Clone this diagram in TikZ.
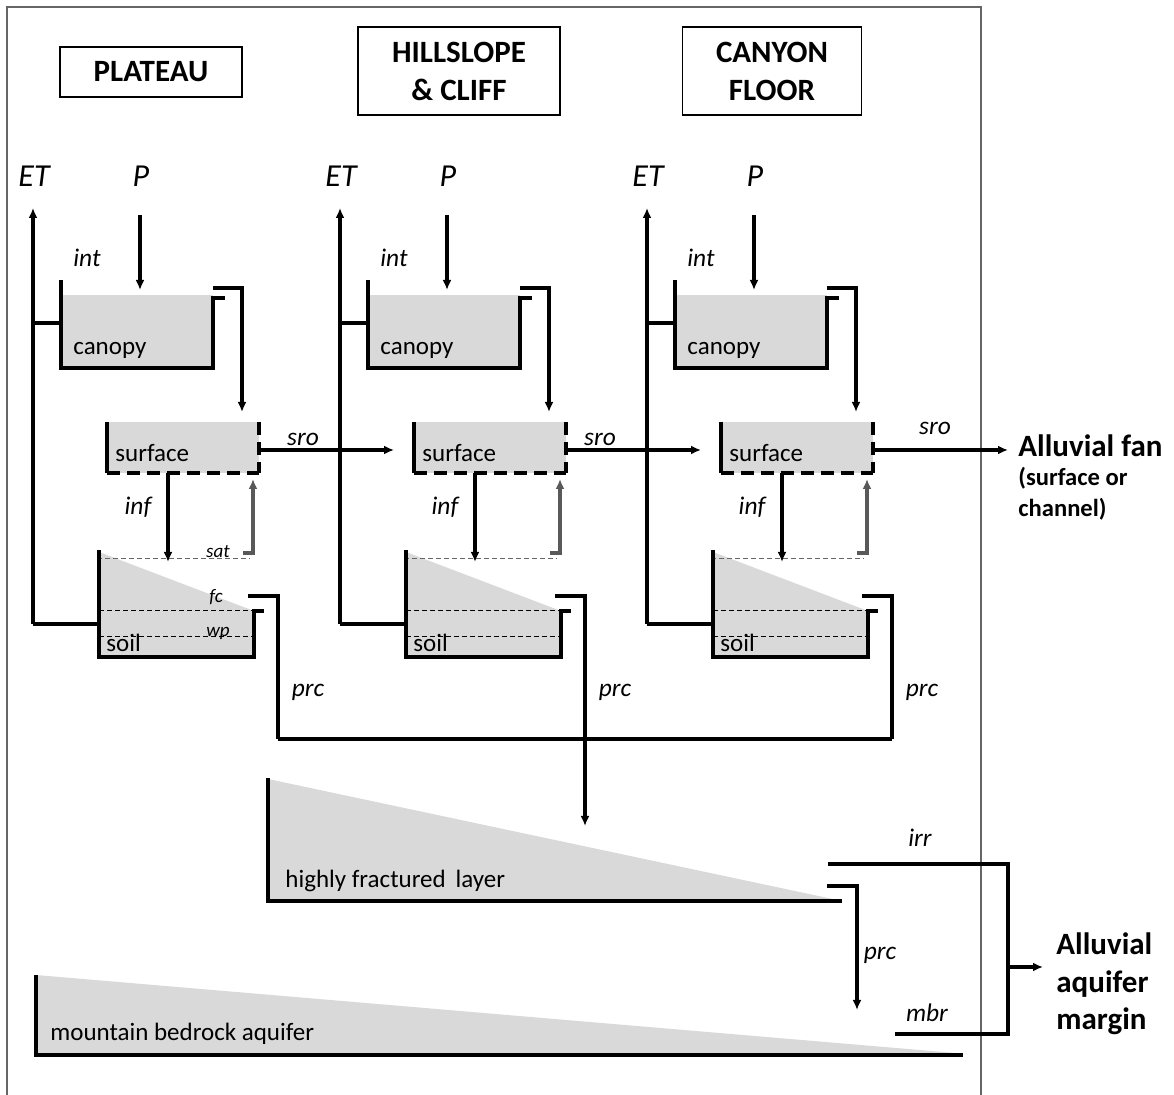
\documentclass[tikz,border=0pt]{standalone}
\usepackage{fontspec}
\setmainfont{Carlito}
\usetikzlibrary{arrows.meta}

\begin{document}
\begin{tikzpicture}[x=0.5pt,y=0.5pt]
\tikzstyle{wall}= [line width=1.6pt]
\tikzstyle{flow}= [-{Latex[length=5pt,width=4.5pt]},line width=1.6pt]
\tikzstyle{satflow}= [flow,black!65]
\tikzstyle{lvl}= [line width=0.5pt,dash pattern=on 2.5pt off 1.5pt]
\tikzstyle{rim}= [line width=2pt,dash pattern=on 6.5pt off 3.5pt]
\tikzstyle{store}= [fill=black!15]
\tikzstyle{hdr}= [draw,line width=0.6pt,font=\fontsize{15.5}{19}\selectfont\bfseries,align=center]
\tikzstyle{lbl}= [font=\fontsize{12.5}{15}\selectfont,anchor=base west,inner sep=0pt]
\tikzstyle{flux}= [font=\fontsize{12.7}{15}\selectfont\itshape]
\tikzstyle{big}= [font=\fontsize{16}{19}\selectfont\itshape]
\tikzstyle{mini}= [font=\fontsize{9.5}{11}\selectfont\itshape,inner sep=0pt]
\tikzstyle{sink}= [font=\fontsize{15.5}{18.75}\selectfont\bfseries,align=left,anchor=base west,inner sep=0pt]

\useasboundingbox (0,0) rectangle (1174,-1095);
\draw[black!60,line width=0.7pt] (7,-1095) -- (7,-7) -- (981,-7) -- (981,-1095);

\path
	(151,-72) node[hdr,minimum width=91pt,minimum height=25pt] (plat) {PLATEAU}
	(459,-71) node[hdr,minimum width=101pt,minimum height=44pt] (hill) {HILLSLOPE\\\& CLIFF}
	(772,-71) node[hdr,minimum width=89.5pt,minimum height=44pt] (cany) {CANYON\\FLOOR}
;

% one column of canopy, surface and soil per landscape unit
\foreach \c in {0,1,2} {
\begin{scope}[xshift=\c*153.5pt]
\fill[store] (61,-295) rectangle (213,-368);
\fill[store] (107,-422) rectangle (259,-473);
\fill[store] (99,-552) -- (254,-611) -- (254,-657) -- (99,-657) -- cycle;
\draw[lvl,black!60] (97,-559) -- (250,-559);
\draw[lvl] (99,-611) -- (254,-611);
\draw[lvl] (99,-637) -- (254,-637);
\draw[wall] (61,-280) -- (61,-368) -- (213,-368) -- (213,-298) -- (225,-298);
\draw[wall] (107,-422) -- (107,-473);
\draw[rim] (107,-473) -- (259,-473);
\draw[rim] (259,-422) -- (259,-473);
\draw[wall] (99,-550) -- (99,-657) -- (254,-657) -- (254,-611) -- (264,-611);
\path
	( 34,-176) node[big] (et\c) {ET}
	(141,-176) node[big] (p\c) {P}
	( 87,-258) node[flux] (int\c) {int}
	(138,-507) node[flux] (inf\c) {inf}
	(308,-692) node[flux] (prc\c) {prc}
	( 73,-355) node[lbl] (cnp\c) {canopy}
	(115,-462) node[lbl] (srf\c) {surface}
	(106,-652) node[lbl] (soil\c) {soil}
	( 33,-624) coordinate (etb\c)
	( 33,-208) coordinate (ett\c)
	( 33,-323) coordinate (etc\c)
	( 61,-323) coordinate (cnw\c)
	( 99,-624) coordinate (slw\c)
	(140,-215) coordinate (pin\c)
	(140,-290) coordinate (pout\c)
	(213,-288) coordinate (ovf\c)
	(242,-412) coordinate (srt\c)
	(168,-473) coordinate (srb\c)
	(168,-562) coordinate (slt\c)
	(243,-553) coordinate (sat\c)
	(253,-479) coordinate (srr\c)
	(259,-450) coordinate (sro\c)
	(394,-450) coordinate (nxt\c)
	(248,-596) coordinate (slo\c)
	(278,-739) coordinate (col\c)
;
\draw[flow] (etb\c) -- (ett\c);
\draw[wall] (etc\c) -- (cnw\c);
\draw[wall] (etb\c) -- (slw\c);
\draw[flow] (pin\c) -- (pout\c);
\draw[flow] (ovf\c) -| (srt\c);
\draw[flow] (srb\c) -- (slt\c);
\draw[satflow] (sat\c) -| (srr\c);
\draw[flow] (sro\c) -- (nxt\c);
\draw[wall] (slo\c) -| (col\c);
\end{scope}
}

% deeper layers
\fill[store] (268,-779) -- (842,-901) -- (268,-901) -- cycle;
\draw[wall] (268,-778) -- (268,-901) -- (842,-901);
\fill[store] (36,-975) -- (955,-1053) -- (36,-1053) -- cycle;
\draw[wall] (36,-975) -- (36,-1055) -- (963,-1055);

\path
	(303,-439) node[flux] (sroa) {sro}
	(600,-439) node[flux] (srob) {sro}
	(935,-428) node[flux] (sroc) {sro}
	(218,-552) node[mini] (satl) {sat}
	(216,-597) node[mini] (fcl) {fc}
	(218,-633) node[mini] (wpl) {wp}
	(1018,-457) node[sink] (fan) {Alluvial fan}
	(1018,-517) node[sink,font=\fontsize{12.3}{15.5}\selectfont\bfseries] (fan2) {(surface or\\channel)}
	(1056,-1030) node[sink] (aqf) {Alluvial\\aquifer\\margin}
	(285,-888) node[lbl] (hfl) {highly fractured\, layer}
	( 50,-1041) node[lbl] (mba) {mountain bedrock aquifer}
	(920,-838) node[flux] (irr) {irr}
	(880,-955) node[flux] (prcd) {prc}
	(927,-1013) node[flux] (mbr) {mbr}
	(585,-826) coordinate (hft)
	(827,-886) coordinate (hfo)
	(857,-1010) coordinate (mbt)
	(828,-864) coordinate (irs)
	(1008,-1034) coordinate (irc)
	(895,-1034) coordinate (mbs)
	(1008,-967) coordinate (aqs)
	(1043,-967) coordinate (aqt)
;
\draw[wall] (col0) -- (col2);
\draw[flow] (col1) -- (hft);
\draw[flow] (hfo) -| (mbt);
\draw[wall] (irs) -| (irc) -- (mbs);
\draw[flow] (aqs) -- (aqt);
\end{tikzpicture}
\end{document}
